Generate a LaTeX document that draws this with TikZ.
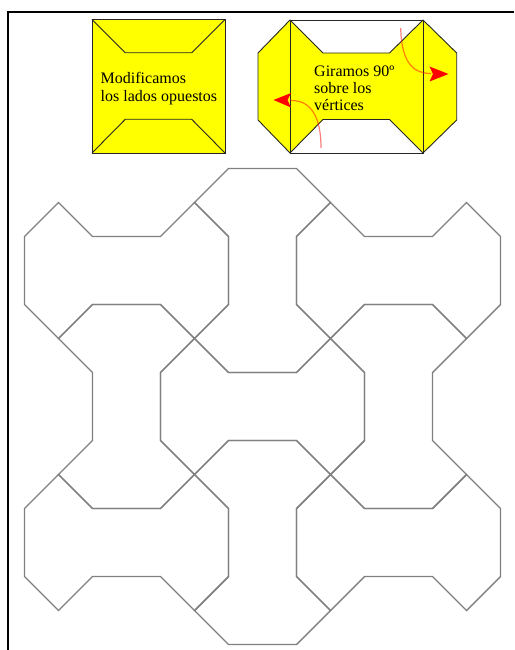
\documentclass[tikz,border=0pt]{standalone}
\usepackage{fontspec}
\setmainfont{Liberation Serif}
\definecolor{tilegray}{RGB}{128,128,128}
\definecolor{bonefill}{RGB}{255,255,0}
\begin{document}
\begin{tikzpicture}[x=1pt,y=-1pt,
  tile/.style={draw=tilegray, line width=1.4pt, line join=miter},
  panel/.style={draw=black!85, line width=0.9pt, line join=miter},
  lbl/.style={font=\fontsize{16}{17.5}\selectfont, anchor=base west, inner sep=0pt},
  turn/.style={draw=red, draw opacity=0.5, line width=1.2pt},
  tip/.style={fill=red, draw=none},
  hbone/.pic={\draw[tile] (-2,-2) -- (-1,-1) -- (1,-1) -- (2,-2) -- (3,-1) -- (3,1) -- (2,2) -- (1,1) -- (-1,1) -- (-2,2) -- (-3,1) -- (-3,-1) -- cycle;},
  vbone/.pic={\draw[tile] (2,-2) -- (1,-1) -- (1,1) -- (2,2) -- (1,3) -- (-1,3) -- (-2,2) -- (-1,1) -- (-1,-1) -- (-2,-2) -- (-1,-3) -- (1,-3) -- cycle;}
  ]
\useasboundingbox (0,0) rectangle (514,650);
% frame
\draw[line width=2pt] (8.3,650) -- (8.3,12.3) -- (514,12.3);

% tessellation
\foreach \cx/\cy/\kind in {126.5/270.5/hbone, 262.5/270.5/vbone, 398.5/270.5/hbone,
                            126.5/406.5/vbone, 262.5/406.5/hbone, 398.5/406.5/vbone,
                            126.5/542.5/hbone, 262.5/542.5/vbone, 398.5/542.5/hbone}
  \pic[shift={(\cx,\cy)}, scale=34] {\kind};

% left panel
\fill[bonefill] (92,19.5) rectangle (225,153);
\draw[panel] (92,19.5) rectangle (225,153);
\draw[panel] (92,19.5) -- (125.3,52.8) -- (191.7,52.8) -- (225,19.5);
\draw[panel] (92,153) -- (125.3,119.3) -- (191.7,119.3) -- (225,153);
\node[lbl] (l1) at (100.5,84) {Modificamos};
\node[lbl] (l2) at (100.5,101.5) {los lados opuestos};

% right panel
\fill[bonefill] (258,53) -- (290,20) -- (323,53) -- (389.5,53) -- (423,20) -- (456.7,53)
  -- (456.7,120) -- (423,153) -- (389.5,119.5) -- (323,119.5) -- (290,153) -- (258,120) -- cycle;
\draw[panel] (258,53) -- (290,20) -- (323,53) -- (389.5,53) -- (423,20) -- (456.7,53)
  -- (456.7,120) -- (423,153) -- (389.5,119.5) -- (323,119.5) -- (290,153) -- (258,120) -- cycle;
\draw[panel] (290,20) rectangle (423,153);
\node[lbl] (r1) at (314,76.5) {Giramos 90º};
\node[lbl] (r2) at (314,94) {sobre los};
\node[lbl] (r3) at (314,111) {vértices};

% rotation arrows
\draw[turn] (400.7,28) .. controls (401.5,65) and (415,73.5) .. (431,73.5);
\fill[tip] (448.5,74) -- (429.5,66.5) -- (433,74) -- (429.5,81.5) -- cycle;
\draw[turn] (321,148) .. controls (321,105) and (302,100) .. (290,100.5);
\fill[tip] (273.5,100) -- (291,93) -- (287.5,100) -- (291,107.5) -- cycle;
\end{tikzpicture}
\end{document}
